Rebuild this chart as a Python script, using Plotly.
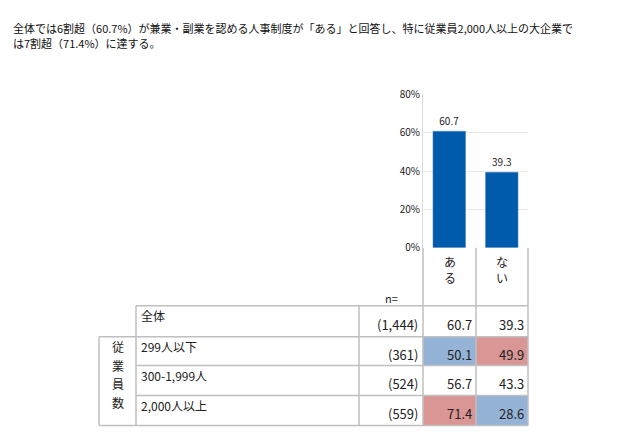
import plotly.graph_objects as go

title_lines = ["全体では6割超（60.7%）が兼業・副業を認める人事制度が「ある」と回答し、特に従業員2,000人以上の大企業で",
               "は7割超（71.4%）に達する。"]
answers = ["ある", "ない"]
overall = [60.7, 39.3]
row_labels = ["全体", "299人以下", "300-1,999人", "2,000人以上"]
row_n = ["(1,444)", "(361)", "(524)", "(559)"]
row_values = [[60.7, 39.3], [50.1, 49.9], [56.7, 43.3], [71.4, 28.6]]
# highlight: 1 = high (red), -1 = low (blue), 0 = none
row_marks = [[0, 0], [-1, 1], [0, 0], [1, -1]]
group_label = "従業員数"

W, H = 641, 438
FONT = "Noto Sans CJK JP, Verdana, sans-serif"
BLUE = "#005BAC"
CELL_BLUE = "#95B3D7"
CELL_RED = "#DA9694"
BORDER = "#BFBFBF"
TXT = "#222"

# layout in pixels
PX0, PX1 = 415, 520        # value columns
PY0, PY1 = 240, 81         # plot 0% and 80%
COL_X = [91, 128, 351, 415, 468, 520]
ROW_Y = [300, 332, 362, 393, 424]

px = lambda x: x / W
py = lambda y: 1 - y / H

fig = go.Figure()
fig.add_trace(go.Bar(
    x=answers, y=overall, marker=dict(color=BLUE, line=dict(color="#4F81BD", width=0.5)),
    text=[f"{v:.1f}" for v in overall], textposition="outside",
    textfont=dict(size=10, color=TXT, family=FONT), cliponaxis=False,
    showlegend=False, hoverinfo="skip",
))

shapes = []
ann = []
def line(x0, y0, x1, y1):
    shapes.append(dict(type="line", xref="paper", yref="paper", x0=px(x0), y0=py(y0),
                       x1=px(x1), y1=py(y1), line=dict(color=BORDER, width=1.5), layer="above"))
def txt(x, y, s, anchor="left", size=12, color=TXT):
    ann.append(dict(xref="paper", yref="paper", x=px(x), y=py(y), text=s, showarrow=False,
                    xanchor=anchor, yanchor="middle", font=dict(size=size, color=color, family=FONT)))

# header box
for x in (PX0, 468, PX1):
    line(x, PY0, x, ROW_Y[0])
for i, a in enumerate(answers):
    cx = (COL_X[3 + i] + COL_X[4 + i]) / 2
    for j, ch in enumerate(a):
        txt(cx, 254 + j * 17, ch, "center")
txt(383, 292, "n=", "center", 11)

# cells
for r, label in enumerate(row_labels):
    y0, y1 = ROW_Y[r], ROW_Y[r + 1]
    for c in range(2):
        m = row_marks[r][c]
        if m:
            shapes.append(dict(type="rect", xref="paper", yref="paper",
                               x0=px(COL_X[3 + c]), x1=px(COL_X[4 + c]), y0=py(y0), y1=py(y1),
                               fillcolor=CELL_RED if m > 0 else CELL_BLUE,
                               line=dict(width=0), layer="below"))
        txt(COL_X[4 + c] - 2, (y0 + y1) / 2 + 3, f"{row_values[r][c]:.1f}", "right", 13)
    txt(COL_X[1] + 3, y0 + 10, label)
    txt(COL_X[3] - 3, (y0 + y1) / 2 + 3, row_n[r], "right", 13)
    line(COL_X[1], y0, COL_X[5], y0)
line(COL_X[0], ROW_Y[1], COL_X[1], ROW_Y[1])
line(COL_X[0], ROW_Y[-1], COL_X[5], ROW_Y[-1])
for x in COL_X[1:]:
    line(x, ROW_Y[0], x, ROW_Y[-1])
line(COL_X[0], ROW_Y[1], COL_X[0], ROW_Y[-1])
for j, ch in enumerate(group_label):
    txt((COL_X[0] + COL_X[1]) / 2, 342 + j * 19.5, ch, "center")

for i, t in enumerate(title_lines):
    txt(3, 12 + i * 16, t, "left", 11, "#111")

fig.update_layout(
    width=W, height=H, margin=dict(l=0, r=0, t=0, b=0),
    paper_bgcolor="white", plot_bgcolor="white",
    bargap=0.38, shapes=shapes, annotations=ann,
    xaxis=dict(domain=[px(PX0), px(PX1)], showticklabels=False, showline=False,
               showgrid=False, fixedrange=True),
    yaxis=dict(domain=[py(PY0), py(PY1)], range=[0, 80], dtick=20,
               ticksuffix="%", showgrid=True, gridcolor="#E8E8E8", zeroline=False,
               showline=True, linecolor="#D9D9D9", ticks="",
               tickfont=dict(size=10, color=TXT, family=FONT)),
)

fig.write_html("out.html")
